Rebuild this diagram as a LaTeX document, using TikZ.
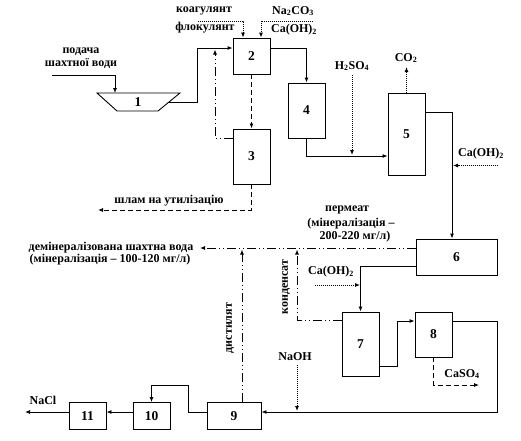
\documentclass[tikz,border=0pt]{standalone}
\usepackage{fontspec}
\setmainfont{Liberation Serif}
\usetikzlibrary{arrows.meta}
\begin{document}
\begin{tikzpicture}[x=1pt,y=-1pt,
  blk/.style={draw,line width=0.9pt,inner sep=0pt,font=\bfseries\fontsize{13.5}{13.5}\selectfont},
  lbl/.style={inner sep=0pt,font=\bfseries\fontsize{12}{13}\selectfont,align=center},
  arr/.style={-{Latex[length=5pt,width=4pt]}},
  solidf/.style={line width=0.9pt},
  chem/.style={line width=0.9pt,dash pattern=on 1pt off 1pt},
  sludge/.style={line width=0.9pt,dash pattern=on 5pt off 3pt},
  water/.style={line width=0.9pt,dash pattern=on 9pt off 3pt on 1pt off 3pt on 1pt off 3pt}]
\useasboundingbox (0,0) rectangle (521,440);
% block 1 (trapezoid)
\draw[line width=0.9pt] (97,93) -- (180,93) -- (158,111) -- (117,111) -- cycle;
\node[inner sep=0pt,font=\bfseries\fontsize{13.5}{13.5}\selectfont] (b1) at (138,102) {1};
\coordinate (b1top) at (115,93);
\coordinate (b1out) at (169,102);
% blocks
\node[blk,minimum width=37pt,minimum height=36pt] (b2) at (251.5,56) {2};
\node[blk,minimum width=37pt,minimum height=55pt] (b3) at (251.5,156.5) {3};
\node[blk,minimum width=37pt,minimum height=55pt] (b4) at (306.5,110.5) {4};
\node[blk,minimum width=37pt,minimum height=82pt] (b5) at (406.5,134) {5};
\node[blk,minimum width=81pt,minimum height=36pt] (b6) at (456.5,257) {6};
\node[blk,minimum width=37pt,minimum height=64pt] (b7) at (360.5,344) {7};
\node[blk,minimum width=37pt,minimum height=45pt] (b8) at (433.5,334.5) {8};
\node[blk,minimum width=54pt,minimum height=27pt] (b9) at (234,416) {9};
\node[blk,minimum width=37pt,minimum height=27pt] (b10) at (151.5,416) {10};
\node[blk,minimum width=37pt,minimum height=27pt] (b11) at (87.5,416) {11};
% free-end coordinates
\coordinate (feedin) at (52,75);
\coordinate (koag) at (198,21);
\coordinate (soda) at (313,21);
\coordinate (sludgeout) at (98,210);
\coordinate (recyc) at (215,49.5);
\coordinate (acid) at (352,75);
\coordinate (acidend) at (352,155);
\coordinate (co2) at (406.5,67);
\coordinate (lime1) at (498,165.5);
\coordinate (lime1end) at (453,165.5);
\coordinate (permout) at (200,248);
\coordinate (lime2) at (315,285);
\coordinate (lime2end) at (360,285);
\coordinate (cond) at (297,249.5);
\coordinate (caso4) at (479,385);
\coordinate (naoh) at (297,365);
\coordinate (naohend) at (297,411);
\coordinate (dist) at (242,249.5);
\coordinate (nacl) at (25,412);
% labels
\node[lbl] (t1) at (204,11) {коагулянт};
\node[lbl] (t2) at (205,28) {флокулянт};
\node[lbl] (t3) at (293,11) {Na\textsubscript{2}CO\textsubscript{3}};
\node[lbl] (t4) at (294,30) {Ca(OH)\textsubscript{2}};
\node[lbl] (t5) at (81,58) {подача\\шахтної води};
\node[lbl] (t6) at (352,66) {H\textsubscript{2}SO\textsubscript{4}};
\node[lbl] (t7) at (406,58) {CO\textsubscript{2}};
\node[lbl] (t8) at (481,154) {Ca(OH)\textsubscript{2}};
\node[lbl] (t9) at (169,201) {шлам на утилізацію};
\node[lbl] (t10) at (347,210) {пермеат};
\node[lbl] (t11) at (351,223.5) {(мінералізація –};
\node[lbl] (t12) at (355,237) {200-220 мг/л)};
\node[lbl] (t13) at (111,248) {демінералізована шахтна вода};
\node[lbl] (t14) at (110,259.5) {(мінералізація – 100-120 мг/л)};
\node[lbl,rotate=90] (t15) at (286,287) {конденсат};
\node[lbl,rotate=90] (t16) at (230,328) {дистилят};
\node[lbl] (t17) at (331,272) {Ca(OH)\textsubscript{2}};
\node[lbl] (t18) at (295,357) {NaOH};
\node[lbl] (t19) at (462,374) {CaSO\textsubscript{4}};
\node[lbl] (t20) at (43,400) {NaCl};
% connectors
\draw[solidf,arr] (feedin) -| (b1top);
\draw[solidf,arr] (b1out) -- (197,102) |- ([yshift=8pt]b2.west);
\draw[chem,arr] (koag) -| ([xshift=-8.5pt]b2.north);
\draw[chem,arr] (soda) -| ([xshift=9.5pt]b2.north);
\draw[solidf,arr] ([yshift=8pt]b2.east) -| (b4.north);
\draw[sludge,arr] (b2.south) -- (b3.north);
\draw[sludge,arr] (b3.south) |- (sludgeout);
\draw[water,arr] ([yshift=18.5pt]b3.west) -| (recyc);
\draw[solidf,arr] (b4.south) |- ([yshift=-22pt]b5.west);
\draw[chem,arr] (acid) -- (acidend);
\draw[chem,arr] (b5.north) -- (co2);
\draw[solidf,arr] ([yshift=22pt]b5.east) -| ([xshift=-4.5pt]b6.north);
\draw[chem,arr] (lime1) -- (lime1end);
\draw[water,arr] ([yshift=9pt]b6.west) -- (permout);
\draw[solidf,arr] ([yshift=-9pt]b6.west) -| (b7.north);
\draw[chem,arr] (lime2) -- (lime2end);
\draw[water,arr] ([yshift=24pt]b7.west) -| (cond);
\draw[solidf,arr] ([yshift=-22pt]b7.east) -- (397,366) |- ([yshift=13.5pt]b8.west);
\draw[solidf,arr] ([yshift=13.5pt]b8.east) -- (497,321) |- ([yshift=4pt]b9.east);
\draw[sludge,arr] (b8.south) |- (caso4);
\draw[chem,arr] (naoh) -- (naohend);
\draw[water,arr] ([xshift=8pt]b9.north) -- (dist);
\draw[solidf,arr] ([yshift=4pt]b9.west) -- (188,412) -- (188,385) -| (b10.north);
\draw[solidf,arr] ([yshift=4pt]b10.west) -- ([yshift=4pt]b11.east);
\draw[solidf,arr] ([yshift=4pt]b11.west) -- (nacl);
\end{tikzpicture}
\end{document}
